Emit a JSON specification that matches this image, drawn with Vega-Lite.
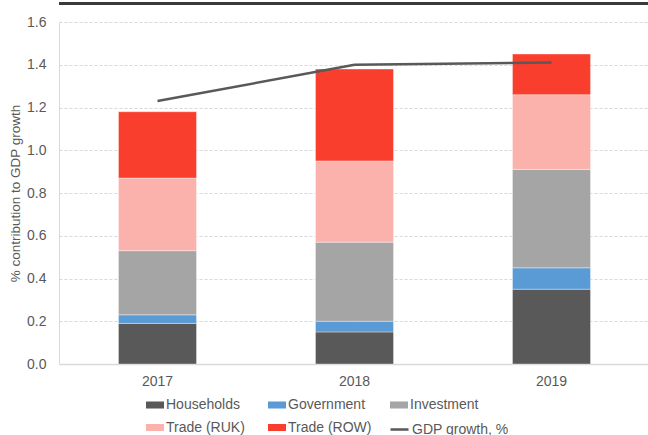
{
  "$schema": "https://vega.github.io/schema/vega-lite/v6.json",
  "autosize": "none",
  "width": 591,
  "height": 342,
  "padding": {"left": 59, "top": 22, "right": 0, "bottom": 71},
  "background": "white",
  "config": {
    "font": "Liberation Sans",
    "view": {"stroke": null},
    "axis": {
      "labelColor": "#595959",
      "titleColor": "#595959",
      "labelFontSize": 14,
      "titleFontSize": 13.5,
      "titleFontWeight": "normal",
      "ticks": false,
      "domainColor": "#d9d9d9"
    },
    "legend": {
      "title": null,
      "orient": "none",
      "direction": "horizontal",
      "symbolOffset": 0,
      "labelOffset": 2,
      "labelFontSize": 14,
      "labelColor": "#595959",
      "labelFont": "Liberation Sans",
      "symbolSize": 324
    }
  },
  "datasets": {
    "contrib": [
      {"year": "2017", "component": "Households", "value": 0.19},
      {"year": "2017", "component": "Government", "value": 0.04},
      {"year": "2017", "component": "Investment", "value": 0.30},
      {"year": "2017", "component": "Trade (RUK)", "value": 0.34},
      {"year": "2017", "component": "Trade (ROW)", "value": 0.31},
      {"year": "2018", "component": "Households", "value": 0.15},
      {"year": "2018", "component": "Government", "value": 0.05},
      {"year": "2018", "component": "Investment", "value": 0.37},
      {"year": "2018", "component": "Trade (RUK)", "value": 0.38},
      {"year": "2018", "component": "Trade (ROW)", "value": 0.43},
      {"year": "2019", "component": "Households", "value": 0.35},
      {"year": "2019", "component": "Government", "value": 0.10},
      {"year": "2019", "component": "Investment", "value": 0.46},
      {"year": "2019", "component": "Trade (RUK)", "value": 0.35},
      {"year": "2019", "component": "Trade (ROW)", "value": 0.19}
    ],
    "gdp": [
      {"year": "2017", "growth": 1.23},
      {"year": "2018", "growth": 1.40},
      {"year": "2019", "growth": 1.41}
    ],
    "frame": [{"level": 1.687}]
  },
  "layer": [
    {
      "data": {"name": "contrib"},
      "transform": [
        {"calculate": "indexof(['Households', 'Government', 'Investment', 'Trade (RUK)', 'Trade (ROW)'], datum.component)", "as": "stackRank"}
      ],
      "mark": {"type": "bar", "stroke": "white", "strokeOpacity": 0.35, "strokeWidth": 1},
      "encoding": {
        "x": {
          "field": "year",
          "type": "nominal",
          "scale": {"paddingInner": 0.604, "paddingOuter": 0.302},
          "axis": {"title": null, "labelAngle": 0, "labelPadding": 10, "domainWidth": 1.5}
        },
        "y": {
          "field": "value",
          "type": "quantitative",
          "stack": "zero",
          "scale": {"domain": [0, 1.6], "nice": false},
          "axis": {
            "title": "% contribution to GDP growth",
            "titlePadding": 4,
            "format": ".1f",
            "values": [0, 0.2, 0.4, 0.6, 0.8, 1.0, 1.2, 1.4, 1.6],
            "labelPadding": 13,
            "gridColor": "#d9d9d9",
            "gridDash": [3, 2],
            "domainWidth": 1
          }
        },
        "order": {"field": "stackRank", "type": "quantitative", "sort": "ascending"},
        "color": {
          "field": "component",
          "type": "nominal",
          "scale": {
            "domain": ["Households", "Government", "Investment", "Trade (RUK)", "Trade (ROW)"],
            "range": ["#595959", "#5b9bd5", "#a5a5a5", "#fbb2ac", "#fa3e2d"]
          },
          "legend": {
            "legendX": 87,
            "legendY": 374,
            "columns": 3,
            "gridAlign": "all",
            "columnPadding": 18,
            "rowPadding": 6.5,
            "symbolType": "M-1,-0.39H1V0.39H-1Z",
            "symbolStrokeWidth": 0
          }
        }
      }
    },
    {
      "data": {"name": "gdp"},
      "mark": {"type": "line", "strokeWidth": 2.5},
      "encoding": {
        "x": {"field": "year", "type": "nominal"},
        "y": {"field": "growth", "type": "quantitative"},
        "stroke": {
          "datum": "GDP growth, %",
          "scale": {"range": ["#595959"]},
          "legend": {
            "legendX": 330,
            "legendY": 397,
            "symbolType": "stroke",
            "symbolStrokeWidth": 2.5
          }
        }
      }
    },
    {
      "data": {"name": "frame"},
      "mark": {"type": "rule", "color": "#3a3a3a", "strokeWidth": 3},
      "encoding": {
        "y": {"field": "level", "type": "quantitative"}
      }
    }
  ]
}
